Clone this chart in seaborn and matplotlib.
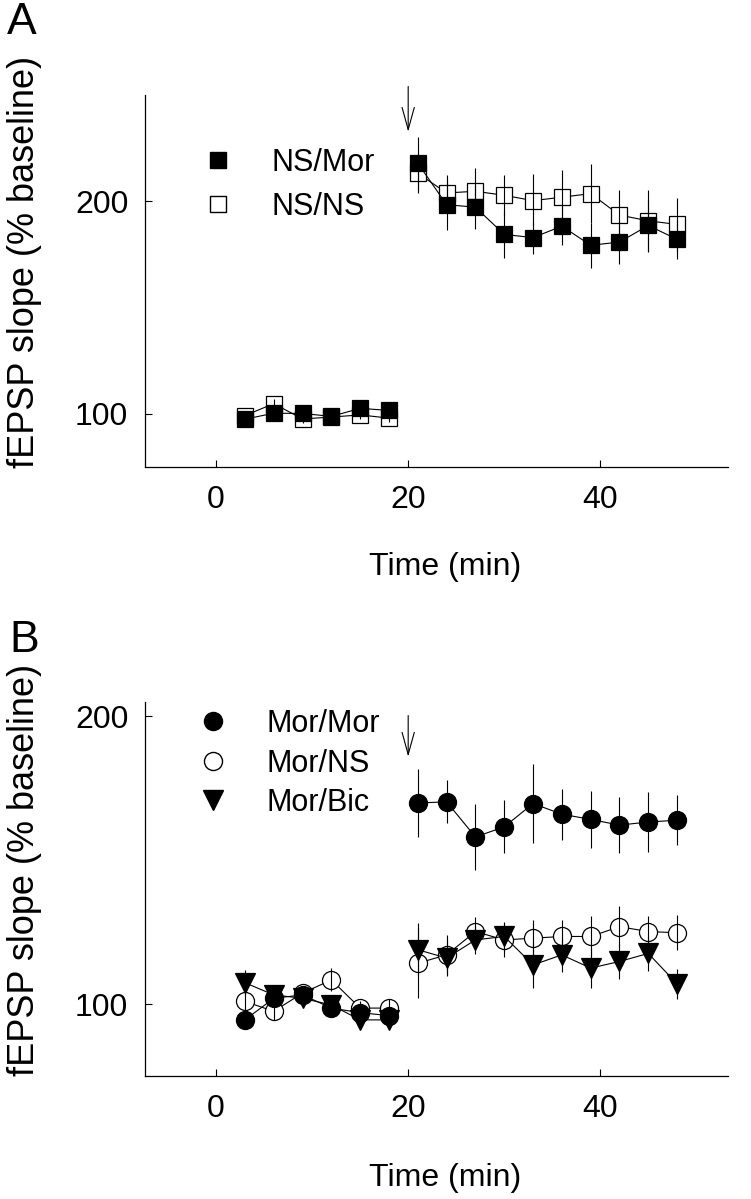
import numpy as np
import pandas as pd
import matplotlib
matplotlib.use("Agg")
import matplotlib.pyplot as plt
import seaborn as sns
from matplotlib.lines import Line2D

# time points (min)
time = [3, 6, 9, 12, 15, 18, 21, 24, 27, 30, 33, 36, 39, 42, 45, 48]
phase = ["base"] * 6 + ["post"] * 10

# panel A
ns_mor = [97.5, 100.3, 100.2, 98.8, 102.6, 101.6, 217.9, 198.4, 197.2, 184.4, 182.9, 188.3, 179.3, 180.8, 188.6, 182.1]
ns_mor_err = [2, 2, 2, 2, 2, 2, 12.5, 11.7, 10.4, 11.2, 7.5, 8.9, 10.5, 10.1, 12.3, 9.3]
ns_ns = [99.2, 104.8, 97.6, 98.5, 99.5, 98.0, 213.2, 203.9, 204.7, 202.8, 200.3, 201.9, 203.6, 193.5, 190.8, 189.1]
ns_ns_err = [1.5, 2, 2, 1.5, 2, 2, 9.3, 8.6, 10.9, 9.7, 12.4, 12.6, 14, 12, 14.3, 12.4]

# panel B
mor_mor = [94.5, 102, 103.2, 98.6, 97, 96, 169.9, 170.3, 158.1, 161.6, 169.7, 166, 164.2, 162.2, 163.3, 163.9]
mor_mor_err = [2, 2, 2, 2, 2, 2, 11.9, 7.5, 11.6, 9.2, 13.6, 8.9, 10, 9.8, 10.4, 8.7]
mor_ns = [100.9, 97.5, 103.8, 108.4, 98.6, 98.6, 114.2, 117.1, 125.2, 122.3, 122.9, 123.5, 123.5, 126.9, 125.2, 124.8]
mor_ns_err = [3, 3, 2, 4, 2.5, 3, 12.1, 7, 5.2, 5.8, 6.4, 5.8, 7.2, 7.2, 5.4, 6.1]
mor_bic = [107.4, 103.2, 102, 99.7, 94.5, 94.5, 118.9, 116, 122.3, 123.5, 113.6, 117.1, 112.5, 114.8, 117.6, 107]
mor_bic_err = [4.4, 3, 2.5, 3, 2, 2, 9.2, 6.4, 5, 5, 8.1, 6, 6.9, 6, 6, 5.2]

sns.set_style("ticks")
plt.rcParams["font.family"] = ["Liberation Sans", "DejaVu Sans"]
for k in ["text.color", "axes.labelcolor", "xtick.color", "ytick.color", "axes.edgecolor"]:
    plt.rcParams[k] = "black"

fig = plt.figure(figsize=(7.51, 11.99), dpi=100)
axA = fig.add_axes([0.1931, 0.6105, 0.7763, 0.3103])
axB = fig.add_axes([0.1931, 0.1026, 0.7763, 0.3119])


def draw(ax, vals, errs, marker, ms, fill, z):
    df = pd.DataFrame({"time": time, "value": vals, "sem": errs, "phase": phase})
    ax.errorbar(df["time"], df["value"], yerr=df["sem"], fmt="none",
                ecolor="black", elinewidth=0.8, capsize=0, zorder=3.5)
    sns.lineplot(data=df, x="time", y="value", units="phase", estimator=None,
                 ax=ax, color="black", linewidth=0.8, marker=marker,
                 markersize=ms, markerfacecolor=fill, markeredgecolor="black",
                 markeredgewidth=0.9, zorder=z)


draw(axA, ns_ns, ns_ns_err, "s", 12, "white", 3)
draw(axA, ns_mor, ns_mor_err, "s", 12, "black", 4)

draw(axB, mor_ns, mor_ns_err, "o", 13, "white", 3)
draw(axB, mor_bic, mor_bic_err, "v", 14, "black", 4)
draw(axB, mor_mor, mor_mor_err, "o", 13, "black", 4.2)

for ax, ylim in [(axA, (75, 250)), (axB, (75, 205))]:
    ax.set_xlim(-7.4, 53.3)
    ax.set_ylim(*ylim)
    ax.set_xticks([0, 20, 40])
    ax.set_yticks([100, 200])
    ax.tick_params(direction="in", length=5, width=0.8, labelsize=23)
    ax.tick_params(axis="x", pad=13)
    ax.tick_params(axis="y", pad=12)
    sns.despine(ax=ax)
    for s in ["left", "bottom"]:
        ax.spines[s].set_linewidth(0.9)
    ax.set_xlabel("Time (min)", fontsize=23)
    ax.set_ylabel("fEPSP slope (% baseline)", fontsize=26)

axA.yaxis.set_label_coords(-0.177, 0.552)
axB.yaxis.set_label_coords(-0.177, 0.55)
axA.xaxis.set_label_coords(0.515, -0.228)
axB.xaxis.set_label_coords(0.515, -0.233)

# arrows at tetanus
arrow = dict(arrowstyle="->,head_length=0.8,head_width=0.22", lw=0.8, color="black",
             mutation_scale=20, shrinkA=0, shrinkB=0)
axA.annotate("", xy=(20, 232.7), xytext=(20, 254), annotation_clip=False, arrowprops=arrow)
axB.annotate("", xy=(20, 186), xytext=(20, 200.3), annotation_clip=False, arrowprops=arrow)

hA = [Line2D([], [], ls="none", marker="s", ms=12, mfc="black", mec="black"),
      Line2D([], [], ls="none", marker="s", ms=12, mfc="white", mec="black")]
axA.legend(hA, ["NS/Mor", "NS/NS"], loc="upper left", bbox_to_anchor=(0.099, 0.858),
           frameon=False, fontsize=22, handlelength=1, handletextpad=1.26,
           labelspacing=0.47, borderpad=0, borderaxespad=0)

hB = [Line2D([], [], ls="none", marker="o", ms=13, mfc="black", mec="black"),
      Line2D([], [], ls="none", marker="o", ms=13, mfc="white", mec="black"),
      Line2D([], [], ls="none", marker="v", ms=14, mfc="black", mec="black")]
axB.legend(hB, ["Mor/Mor", "Mor/NS", "Mor/Bic"], loc="upper left",
           bbox_to_anchor=(0.09, 0.981), frameon=False, fontsize=22,
           handlelength=1, handletextpad=1.25, labelspacing=0.31,
           borderpad=0, borderaxespad=0)

fig.text(0.009, 0.998, "A", fontsize=32, va="top", ha="left")
fig.text(0.013, 0.483, "B", fontsize=32, va="top", ha="left")

fig.savefig("out.png", dpi=100)
